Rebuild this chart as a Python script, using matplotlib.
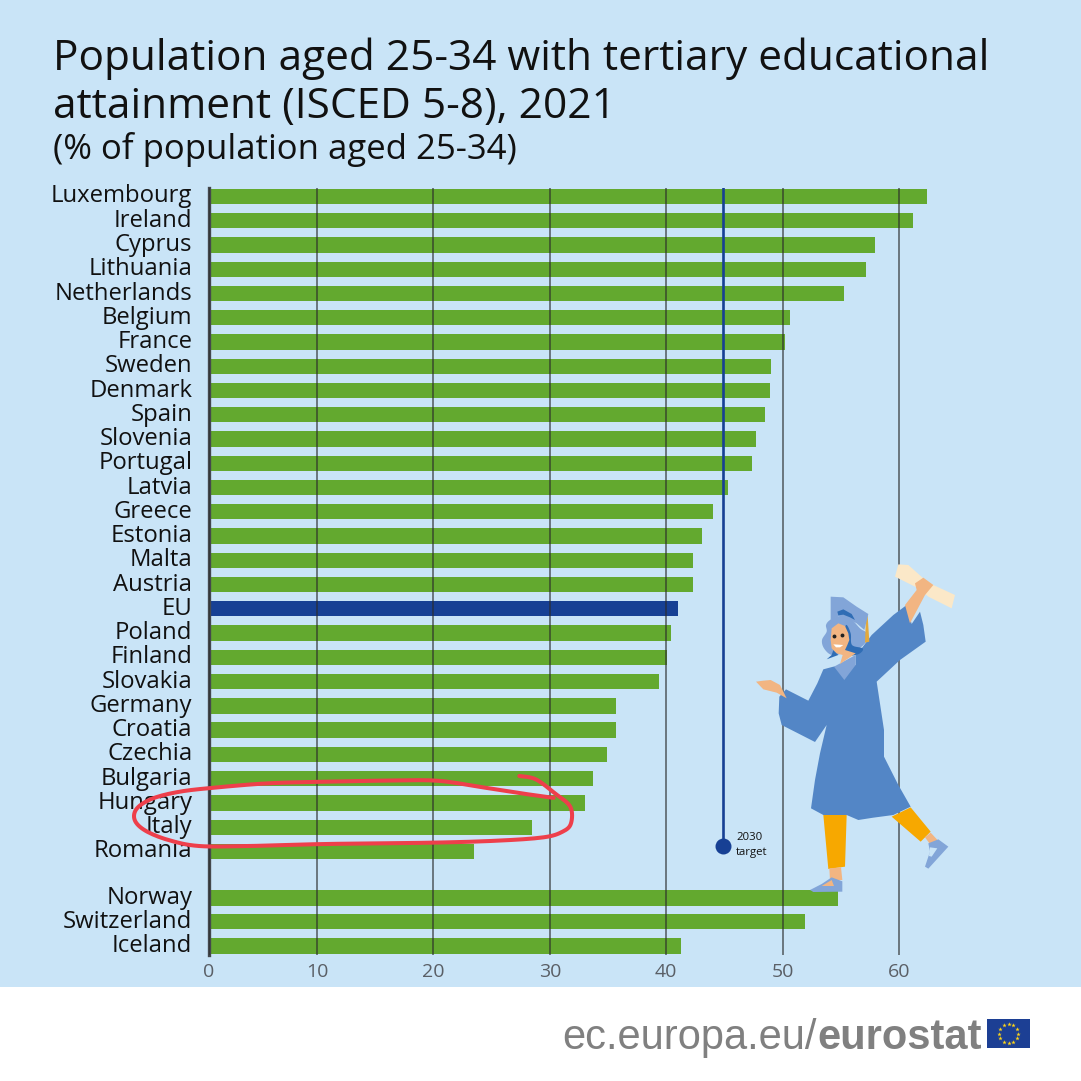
import numpy as np
import matplotlib
matplotlib.use("Agg")
import matplotlib.pyplot as plt
from matplotlib.patches import Polygon, Rectangle
from matplotlib.transforms import ScaledTranslation

plt.rcParams["font.family"] = ["Open Sans", "DejaVu Sans"]

countries = ["Luxembourg", "Ireland", "Cyprus", "Lithuania", "Netherlands", "Belgium", "France",
             "Sweden", "Denmark", "Spain", "Slovenia", "Portugal", "Latvia", "Greece", "Estonia",
             "Malta", "Austria", "EU", "Poland", "Finland", "Slovakia", "Germany", "Croatia",
             "Czechia", "Bulgaria", "Hungary", "Italy", "Romania"]
values = [62.4, 61.2, 57.9, 57.2, 55.3, 50.6, 50.2, 49.0, 48.9, 48.5, 47.7, 47.4, 45.3, 44.0, 43.1,
          42.3, 42.3, 41.0, 40.4, 40.1, 39.4, 35.7, 35.7, 34.9, 33.7, 33.0, 28.5, 23.5]
efta_countries = ["Norway", "Switzerland", "Iceland"]
efta_values = [54.8, 51.9, 41.3]
xticks = [10, 20, 30, 40, 50, 60]
target = 44.9

BG = "#C9E4F7"
GREEN = "#63A92F"
NAVY = "#174094"
GOWN = "#5386C6"
LIGHT = "#82A5D8"
HAIR = "#2F6DB5"
SKIN = "#F2B582"
ORANGE = "#F7A800"

fig = plt.figure(figsize=(10.81, 10.81), dpi=100, facecolor="white")
W = H = 1081.0

# page background
page = fig.add_axes([0, 0, 1, 1], zorder=0)
page.set_xlim(0, W)
page.set_ylim(H, 0)
page.axis("off")
page.add_patch(Rectangle((0, 0), W, 987, color=BG, lw=0))

# chart, the zero line sits a bit right of where the scale would put it (as in the original)
axis_start = 0.72
ax = fig.add_axes([209 / W, 1 - 955 / H, 791 / W, 767 / H], zorder=1)
ax.patch.set_alpha(0)
names = countries + efta_countries
vals = values + efta_values
rows = list(range(len(countries))) + [28.92, 29.9, 30.9]
colors = [NAVY if n == "EU" else GREEN for n in names]
ax.barh(rows, vals, height=0.63, color=colors, lw=0)
ax.set_xlim(axis_start, 68.68)
ax.set_ylim(31.27, -0.35)
ax.set_xticks([axis_start] + xticks)
ax.set_xticklabels(["0"] + [str(t) for t in xticks], color="#5a5f66", fontsize=14)
ax.set_yticks(rows)
ax.set_yticklabels(names, color="#111111", fontsize=17.2)
ax.tick_params(length=0)
ax.tick_params(axis="y", pad=12)
ax.tick_params(axis="x", pad=6)
shift = ScaledTranslation(0, 3 / 100, fig.dpi_scale_trans)
for lab in ax.get_yticklabels():
    lab.set_transform(lab.get_transform() + shift)
for s in ax.spines.values():
    s.set_visible(False)
ax.set_axisbelow(False)
ax.grid(axis="x", color="#2b2b2b", alpha=0.6, lw=1.4)
ax.axvline(axis_start, color="#44484d", lw=2.4, clip_on=False)
ax.plot([target, target], [-0.35, 26.77], color=NAVY, lw=1.9)
ax.plot([target], [26.77], "o", color=NAVY, ms=11.5, mew=0)

# overlay in pixel coordinates for title, illustration, scribble and logo
top = fig.add_axes([0, 0, 1, 1], zorder=2)
top.set_xlim(0, W)
top.set_ylim(H, 0)
top.axis("off")

top.text(53, 70, "Population aged 25-34 with tertiary educational", fontsize=30.5, color="#111111")
top.text(53, 118, "attainment (ISCED 5-8), 2021", fontsize=30.5, color="#111111")
top.text(53, 159, "(% of population aged 25-34)", fontsize=25, color="#111111")
top.text(736, 838, "2030", fontsize=8.2, va="center", color="#111111")
top.text(736, 852, "target", fontsize=8.2, va="center", color="#111111")


def rounded(xs, ys, closed=False, n=8):
    # catmull-rom through the hand read points
    p = np.column_stack([xs, ys]).astype(float)
    if closed:
        p = np.vstack([p[-1], p, p[0], p[1]])
    else:
        p = np.vstack([p[0], p, p[-1]])
    out = []
    for i in range(1, len(p) - 2):
        for t in np.linspace(0, 1, n, endpoint=False):
            out.append(0.5 * (2 * p[i] + (p[i + 1] - p[i - 1]) * t
                              + (2 * p[i - 1] - 5 * p[i] + 4 * p[i + 1] - p[i + 2]) * t ** 2
                              + (3 * p[i] - p[i - 1] - 3 * p[i + 1] + p[i + 2]) * t ** 3))
    return np.array(out)


def shape(points, color, z=3, smooth=False, off=(0, 0)):
    a = np.array(points, dtype=float) + off
    a = np.column_stack([680 + a[:, 0] / 3, 550 + a[:, 1] / 3])
    if smooth:
        a = rounded(a[:, 0], a[:, 1], closed=True)
    top.add_patch(Polygon(a, closed=True, color=color, lw=0, zorder=z))


head = (390, 120)
hand = (600, 15)

# legs and shoes
shape([(430, 795), (500, 795), (495, 950), (445, 957)], ORANGE)
shape([(448, 955), (483, 952), (487, 990), (450, 992)], SKIN)
shape([(390, 1020), (425, 1002), (455, 982), (487, 994), (487, 1025), (400, 1026)], LIGHT)
shape([(425, 1008), (455, 990), (462, 1008)], SKIN, 4)
shape([(635, 800), (692, 772), (752, 845), (722, 875)], ORANGE)
shape([(735, 862), (752, 848), (780, 878), (752, 885)], SKIN)
shape([(775, 868), (805, 890), (745, 956), (735, 950), (750, 905), (745, 880)], LIGHT)
shape([(750, 892), (772, 895), (755, 920), (747, 918)], BG, 4)
# gown
shape([(460, 350), (430, 358), (412, 400), (385, 452), (318, 418), (298, 440), (296, 490), (305, 525),
       (405, 576), (440, 525), (420, 610), (405, 690), (393, 775), (430, 795), (500, 795), (535, 810),
       (580, 803), (640, 795), (692, 770), (655, 705), (612, 620), (612, 540), (590, 395), (660, 330),
       (737, 275), (730, 225), (720, 185), (695, 222), (680, 165), (640, 195), (575, 255), (545, 295),
       (527, 315), (527, 345)], GOWN)
shape([(462, 350), (490, 335), (527, 315), (527, 345), (493, 390)], LIGHT, 4)
# hands and diploma
shape([(45, 65), (55, 28), (85, 30), (130, 70), (160, 90), (225, 120), (215, 160), (145, 125), (115, 100)],
      "#FBE8C8", off=hand)
shape([(75, 150), (110, 105), (105, 85), (130, 68), (160, 90), (135, 120), (90, 205)], SKIN, 4, off=hand)
shape([(228, 395), (250, 392), (272, 390), (300, 405), (320, 445), (290, 428), (250, 418)], SKIN)
# head
shape([(60, 90), (48, 105), (50, 125), (36, 150), (42, 175), (65, 195), (100, 190), (130, 185), (165, 160),
       (170, 130), (150, 115), (120, 85), (85, 80)], LIGHT, smooth=True, off=head)
shape([(108, 105), (122, 130), (126, 165), (158, 175), (150, 190), (125, 197), (105, 195), (100, 150)],
      HAIR, 4, smooth=True, off=head)
shape([(65, 195), (50, 208), (85, 195), (70, 180)], HAIR, 4, off=head)
shape([(65, 115), (85, 100), (105, 108), (115, 130), (118, 150), (112, 165), (105, 180), (137, 190), (90, 222),
       (98, 195), (80, 190), (65, 175), (62, 150)], SKIN, 5, off=head)
shape([(70, 163), (100, 165), (90, 172), (78, 172)], "white", 6, off=head)
shape([(62, 20), (100, 22), (140, 50), (175, 72), (163, 120), (140, 100), (110, 85), (85, 80), (62, 90)],
      LIGHT, 6, off=head)
shape([(82, 65), (100, 58), (125, 72), (135, 90), (120, 82), (100, 74), (85, 76)], HAIR, 7, off=head)
shape([(168, 78), (173, 78), (178, 155), (165, 158)], "#E3A93C", 5, off=head)

# eyes
top.plot([810 + 73 / 3, 810 + 97 / 3], [590 + 137 / 3, 590 + 135 / 3], "o", color="#222222", ms=1.8, zorder=8)

# red marker scribble
sx = [1357, 1400, 1450, 1490, 1492, 1470, 1420, 1300, 1130, 850, 650, 520, 440, 380, 352, 358, 400, 470,
      560, 700, 850, 1000, 1140, 1250, 1350, 1455]
sy = [108, 118, 160, 200, 250, 275, 292, 302, 308, 312, 318, 318, 300, 272, 240, 205, 175, 155, 143, 130,
      125, 122, 122, 140, 158, 175]
stroke = rounded(np.array(sx) / 2.613, 740 + np.array(sy) / 3)
top.plot(stroke[:, 0], stroke[:, 1], color="#EE3F4B", lw=2.9,
         solid_joinstyle="round", solid_capstyle="round", zorder=9)

# logo
top.add_patch(Rectangle((0, 987), W, 94, color="white", lw=0))
top.text(562, 1049, "ec.europa.eu/", fontsize=30, color="#808080", family="Liberation Sans")
top.text(817, 1049, "eurostat", fontsize=30, color="#808080", family="Liberation Sans", weight="bold")
top.add_patch(Rectangle((987, 1019), 43, 29, color="#1C3F94", lw=0))
a = np.arange(12) * np.pi / 6
top.scatter(1008.5 + 9.3 * np.cos(a), 1033.5 + 9.3 * np.sin(a), marker="*", s=11, color="#FFD617", lw=0)

fig.savefig("out.png", dpi=100, facecolor="white")
